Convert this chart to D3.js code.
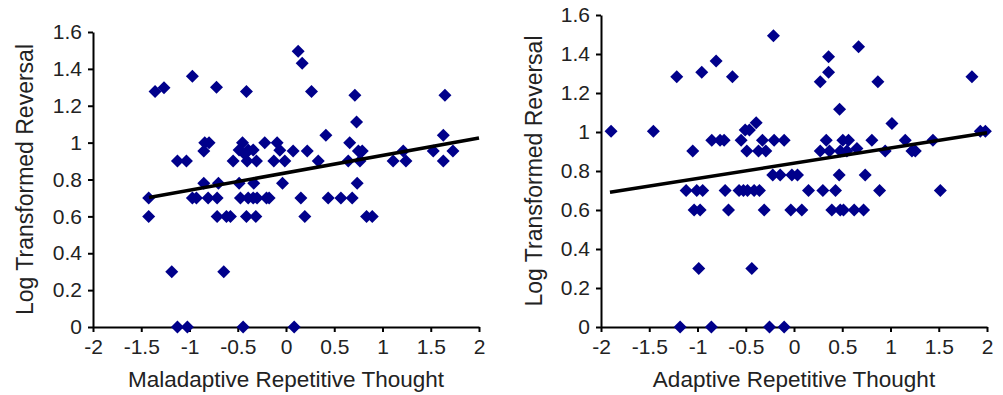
<!DOCTYPE html>
<html><head><meta charset="utf-8">
<script src="https://cdn.jsdelivr.net/npm/d3@7"></script>
<style>
body{margin:0;background:#fff;}
svg{display:block;font-family:"Liberation Sans",Arial,sans-serif;}
</style></head><body>
<svg id="c" width="1003" height="395"></svg>
<script>
// Left panel: Maladaptive Repetitive Thought
const malX = [0.126,0.168,-1.357,-1.264,-0.97,-0.72,-0.41,0.264,0.714,1.647,0.731,0.413,1.63,0.66,-0.842,-0.797,-0.852,-0.451,-0.22,-0.092,-0.392,-0.34,-0.486,-0.064,0.074,0.22,0.75,0.79,1.215,1.526,1.73,
 -1.125,-1.032,-0.548,-0.403,-0.306,-0.126,-0.012,0.334,0.645,0.766,1.11,1.243,1.63,-0.427,
 -0.852,-0.70,-0.486,-0.334,-0.036,0.738,
 -1.423,-0.97,-0.928,-0.807,-0.714,-0.472,-0.392,-0.34,-0.30,-0.202,-0.175,0.154,0.437,0.569,0.686,
 -1.423,-0.714,-0.617,-0.576,-0.41,-0.313,0.195,0.835,0.894,
 -1.184,-0.645,
 -1.125,-1.022,-0.444,0.085];
const malY = [1.495,1.43,1.277,1.298,1.36,1.30,1.277,1.277,1.257,1.257,1.112,1.04,1.04,1.0,1.0,1.0,0.955,1.0,1.0,1.0,0.96,0.96,0.96,0.958,0.955,0.955,0.955,0.955,0.955,0.955,0.955,
 0.9,0.9,0.9,0.9,0.9,0.9,0.9,0.9,0.9,0.9,0.9,0.9,0.9,0.937,
 0.78,0.78,0.78,0.78,0.78,0.78,
 0.7,0.7,0.7,0.7,0.7,0.7,0.7,0.7,0.7,0.7,0.7,0.7,0.7,0.7,0.7,
 0.6,0.6,0.6,0.6,0.6,0.6,0.6,0.6,0.6,
 0.3,0.3,
 0,0,0,0];
const malFit = {slope:0.0944, intercept:0.836, from:-1.42, to:2};

// Right panel: Adaptive Repetitive Thought
const adaX = [-1.896,-1.457,-1.215,-0.956,-0.807,-0.638,-0.213,0.358,0.358,0.272,0.669,0.869,1.844,0.472,1.015,1.931,1.983,
 -0.392,-0.506,-0.462,-0.548,-1.049,-0.852,-0.766,-0.724,-0.489,-0.368,-0.292,-0.327,-0.206,-0.102,0.334,0.272,0.368,0.506,0.565,0.479,0.548,0.652,0.807,0.945,1.153,1.222,1.257,1.44,
 -0.22,-0.143,-0.022,0.036,0.468,0.738,
 -1.118,-1.008,-0.946,-0.714,-0.569,-0.524,-0.482,-0.413,-0.358,0.150,0.299,0.430,0.887,1.516,
 -1.035,-0.973,-0.679,-0.309,-0.033,0.081,0.392,0.479,0.513,0.624,0.721,
 -0.987,-0.437,
 -1.18,-0.856,-0.254,-0.102];
const adaY = [1.004,1.004,1.283,1.306,1.364,1.283,1.494,1.386,1.306,1.258,1.437,1.258,1.283,1.117,1.044,1.004,1.004,
 1.047,1.01,1.01,0.958,0.903,0.958,0.958,0.958,0.903,0.903,0.903,0.958,0.958,0.958,0.958,0.903,0.903,0.958,0.958,0.903,0.903,0.915,0.958,0.903,0.958,0.903,0.903,0.958,
 0.779,0.779,0.779,0.779,0.779,0.779,
 0.7,0.7,0.7,0.7,0.7,0.7,0.7,0.7,0.7,0.7,0.7,0.7,0.7,0.7,
 0.6,0.6,0.6,0.6,0.6,0.6,0.6,0.6,0.6,0.6,0.6,
 0.3,0.3,
 0,0,0,0];
const adaFit = {slope:0.078, intercept:0.840, from:-1.907, to:2};

const xTicks = [-2,-1.5,-1,-0.5,0,0.5,1,1.5,2];
const yTicks = [0,0.2,0.4,0.6,0.8,1,1.2,1.4,1.6];
const xTitles = ["Maladaptive Repetitive Thought","Adaptive Repetitive Thought"];
const yTitle = "Log Transformed Reversal";

const svg = d3.select("#c");
const fmt = d => (d === 0 ? "0" : String(d));

const panels = [
  {xs:malX, ys:malY, fit:malFit, title:xTitles[0], x0:93, x1:479, yTop:32, yBot:327, ylabX:33},
  {xs:adaX, ys:adaY, fit:adaFit, title:xTitles[1], x0:601, x1:987, yTop:15, yBot:327, ylabX:542}
];

panels.forEach(p => {
  const x = d3.scaleLinear().domain([-2,2]).range([p.x0,p.x1]);
  const y = d3.scaleLinear().domain([0,1.6]).range([p.yBot,p.yTop]);
  const g = svg.append("g");

  const xa = g.append("g").attr("transform",`translate(0,${p.yBot})`)
    .call(d3.axisBottom(x).tickValues(xTicks).tickFormat(fmt).tickSize(5).tickSizeOuter(0).tickPadding(7));
  const ya = g.append("g").attr("transform",`translate(${p.x0},0)`)
    .call(d3.axisLeft(y).tickValues(yTicks).tickFormat(fmt).tickSize(5).tickSizeOuter(0).tickPadding(6));
  [xa,ya].forEach(a => {
    a.select(".domain").attr("stroke","#000").attr("stroke-width",2);
    a.selectAll(".tick line").attr("stroke","#000").attr("stroke-width",2);
    a.selectAll("text").attr("fill","#222").style("font-size","21px").style("font-family","'Liberation Sans',Arial,sans-serif");
  });

  const pts = p.xs.map((v,i)=>[v,p.ys[i]]);
  const r = 6.5;
  g.append("g").selectAll("path").data(pts).join("path")
    .attr("d",`M0,${-r}L${r},0L0,${r}L${-r},0Z`)
    .attr("transform",d=>`translate(${x(d[0])},${y(d[1])})`)
    .attr("fill","#00008b");

  const f = p.fit;
  g.append("line")
    .attr("x1",x(f.from)).attr("y1",y(f.intercept+f.slope*f.from))
    .attr("x2",x(f.to)).attr("y2",y(f.intercept+f.slope*f.to))
    .attr("stroke","#000").attr("stroke-width",3.5);

  g.append("text").attr("x",(p.x0+p.x1)/2).attr("y",387).attr("text-anchor","middle")
    .attr("fill","#222").style("font-size","22.5px").text(p.title);
  g.append("text").attr("transform",`translate(${p.ylabX},${(p.yTop+p.yBot)/2}) rotate(-90)`)
    .attr("text-anchor","middle").attr("fill","#222").style("font-size","23px").text(yTitle);
});
</script>
</body></html>
